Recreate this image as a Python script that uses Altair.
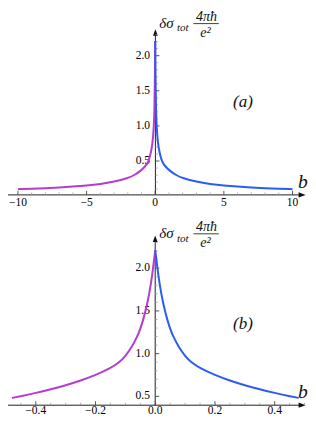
import altair as alt
import pandas as pd

# ---------------- data ----------------
# panel (a): b from -10 to 10
a_left_b = [-10, -9, -8, -7, -6, -5, -4, -3, -2, -1.5, -1, -0.75, -0.5, -0.3, -0.2, -0.1, -0.05, -0.02, 0]
a_left_v = [0.099, 0.105, 0.113, 0.123, 0.135, 0.150, 0.172, 0.204, 0.254, 0.300, 0.370, 0.420, 0.48, 0.63, 0.75, 0.97, 1.29, 1.70, 2.21]
a_right_b = [0, 0.02, 0.05, 0.1, 0.2, 0.3, 0.5, 0.75, 1, 1.5, 2, 3, 4, 5, 6, 7, 8, 9, 10]
a_right_v = [2.21, 1.70, 1.29, 0.97, 0.75, 0.63, 0.48, 0.420, 0.370, 0.300, 0.254, 0.204, 0.172, 0.150, 0.135, 0.123, 0.113, 0.105, 0.099]

# panel (b): b from -0.48 to 0.48
b_left_b = [-0.48, -0.45, -0.40, -0.35, -0.30, -0.25, -0.20, -0.15, -0.12, -0.10, -0.08, -0.06, -0.05, -0.04, -0.03, -0.02, -0.01, 0]
b_left_v = [0.482, 0.503, 0.540, 0.583, 0.630, 0.685, 0.750, 0.830, 0.900, 0.970, 1.070, 1.200, 1.290, 1.400, 1.535, 1.700, 1.920, 2.21]
b_right_b = [0, 0.01, 0.02, 0.03, 0.04, 0.05, 0.06, 0.08, 0.10, 0.12, 0.15, 0.20, 0.25, 0.30, 0.35, 0.40, 0.45, 0.48]
b_right_v = [2.21, 1.920, 1.700, 1.535, 1.400, 1.290, 1.200, 1.070, 0.970, 0.900, 0.830, 0.750, 0.685, 0.630, 0.583, 0.540, 0.503, 0.482]

# ticks and labels
a_x_major = [-10, -5, 0, 5, 10]
a_x_labels = ["\u221210", "\u22125", "0", "5", "10"]
a_x_minor = [-9, -8, -7, -6, -4, -3, -2, -1, 1, 2, 3, 4, 6, 7, 8, 9]
a_y_major = [0.5, 1.0, 1.5, 2.0]
a_y_labels = ["0.5", "1.0", "1.5", "2.0"]
a_y_minor = [0.1, 0.2, 0.3, 0.4, 0.6, 0.7, 0.8, 0.9, 1.1, 1.2, 1.3, 1.4, 1.6, 1.7, 1.8, 1.9, 2.1, 2.2, 2.3]

b_x_major = [-0.4, -0.2, 0.0, 0.2, 0.4]
b_x_labels = ["\u22120.4", "\u22120.2", "0.0", "0.2", "0.4"]
b_x_minor = [-0.5, -0.45, -0.35, -0.3, -0.25, -0.15, -0.1, -0.05, 0.05, 0.1, 0.15, 0.25, 0.3, 0.35, 0.45, 0.5]
b_y_major = [0.5, 1.0, 1.5, 2.0]
b_y_labels = ["0.5", "1.0", "1.5", "2.0"]
b_y_minor = [0.6, 0.7, 0.8, 0.9, 1.1, 1.2, 1.3, 1.4, 1.6, 1.7, 1.8, 1.9, 2.1, 2.2, 2.3]

panel_tags = ["(a)", "(b)"]

# ---------------- styling ----------------
MAGENTA = "#B43CD2"
BLUE = "#2B5CF5"
AXIS = "#222222"
MAJ = "#444444"
MIN = "#999999"
SERIF = "Liberation Serif, Times New Roman, DejaVu Serif, serif"
W, H = 300, 409

ARROW_R = "M -1 -0.75 L 1 0 L -1 0.75 Z"
ARROW_U = "M -0.75 1 L 0 -1 L 0.75 1 Z"
one = pd.DataFrame({"d": [0]})


def sc(dom, rng):
    return alt.Scale(domain=dom, range=rng, nice=False, zero=False)


def panel(lb, lv, rb, rv, xmaj, xlab, xmin_, ymaj, ylab, ymin_, tag, g):
    sx = sc(g["xdom"], g["xrng"])
    sy = sc(g["ydom"], g["yrng"])
    ax_y = g["ax_y"]   # pixel y of horizontal axis
    ax_x = g["ax_x"]   # pixel x of vertical axis
    dy = g["dy"]       # vertical offset of panel for annotations
    L = []
    # axis lines
    L.append(alt.Chart(one).mark_rule(color=AXIS, strokeWidth=1).encode(
        x=alt.value(0), x2=alt.value(292.5), y=alt.value(ax_y)))
    L.append(alt.Chart(one).mark_rule(color=AXIS, strokeWidth=1).encode(
        x=alt.value(ax_x), y=alt.value(ax_y), y2=alt.value(g["tip"] + 5)))
    L.append(alt.Chart(one).mark_point(shape=ARROW_R, filled=True, size=49, color="#111", opacity=1, strokeWidth=0).encode(
        x=alt.value(294.1), y=alt.value(ax_y)))
    L.append(alt.Chart(one).mark_point(shape=ARROW_U, filled=True, size=42, color="#111", opacity=1, strokeWidth=0).encode(
        x=alt.value(ax_x), y=alt.value(g["tip"] + 3.3)))
    # ticks
    L.append(alt.Chart(pd.DataFrame({"t": xmin_})).mark_rule(color=MIN, strokeWidth=0.8).encode(
        x=alt.X("t:Q", scale=sx, axis=None), y=alt.value(ax_y), y2=alt.value(ax_y - 2.4)))
    L.append(alt.Chart(pd.DataFrame({"t": xmaj})).mark_rule(color=MAJ, strokeWidth=0.9).encode(
        x=alt.X("t:Q", scale=sx, axis=None), y=alt.value(ax_y), y2=alt.value(ax_y - 4)))
    L.append(alt.Chart(pd.DataFrame({"t": ymin_})).mark_rule(color=MIN, strokeWidth=0.8).encode(
        y=alt.Y("t:Q", scale=sy, axis=None), x=alt.value(ax_x), x2=alt.value(ax_x + 2.4)))
    L.append(alt.Chart(pd.DataFrame({"t": ymaj})).mark_rule(color=MAJ, strokeWidth=0.9).encode(
        y=alt.Y("t:Q", scale=sy, axis=None), x=alt.value(ax_x), x2=alt.value(ax_x + 4)))
    # tick labels
    L.append(alt.Chart(pd.DataFrame({"t": xmaj, "s": xlab})).mark_text(
        font=SERIF, fontSize=11.5, color="#000", align="center", baseline="middle").encode(
        x=alt.X("t:Q", scale=sx, axis=None), y=alt.value(g["xlab_y"]), text="s:N"))
    L.append(alt.Chart(pd.DataFrame({"t": ymaj, "s": ylab})).mark_text(
        font=SERIF, fontSize=11.5, color="#000", align="right", baseline="middle").encode(
        y=alt.Y("t:Q", scale=sy, axis=None), x=alt.value(g["ax_x"] - 5.3), text="s:N"))
    # curves
    L.append(alt.Chart(pd.DataFrame({"b": lb, "v": lv})).mark_line(
        color=MAGENTA, strokeWidth=2, interpolate="basis").encode(
        x=alt.X("b:Q", scale=sx, axis=None), y=alt.Y("v:Q", scale=sy, axis=None)))
    L.append(alt.Chart(pd.DataFrame({"b": rb, "v": rv})).mark_line(
        color=BLUE, strokeWidth=2, interpolate="basis").encode(
        x=alt.X("b:Q", scale=sx, axis=None), y=alt.Y("v:Q", scale=sy, axis=None)))

    # y title: delta sigma_tot * 4 pi hbar / e^2
    def txt(s, x, y, size, align="left", style="italic"):
        return alt.Chart(one).mark_text(text=s, font=SERIF, fontSize=size, fontStyle=style,
                                        color="#111", align=align, baseline="alphabetic").encode(
            x=alt.value(x), y=alt.value(y))
    L.append(txt("\u03b4\u03c3", 151.3, 19.5 + dy, 15))
    L.append(txt("tot", 169.0, 23.3 + dy, 11))
    L.append(txt("4\u03c0\u0127", 198.4, 12.8 + dy, 14, align="center"))
    L.append(alt.Chart(one).mark_rule(color="#111", strokeWidth=0.8).encode(
        x=alt.value(185.4), x2=alt.value(210.8), y=alt.value(15.6 + dy)))
    L.append(txt("e\u00b2", 192.2, 28.6 + dy, 14))
    L.append(txt(tag, 235, g["tag_y"], 17, align="center"))
    L.append(txt("b", 290, g["b_y"], 19.5))
    return L


ga = dict(xdom=[-10, 10], xrng=[9.95, 284.5], ydom=[0, 2], yrng=[188.1, 47.7],
          ax_y=186.9, ax_x=147.4, tip=21.1, dy=0, xlab_y=194.5, tag_y=98.5, b_y=180.2)
gb = dict(xdom=[-0.4, 0.4], xrng=[27.8, 266.7], ydom=[0.5, 2], yrng=[388.4, 260.2],
          ax_y=397.2, ax_x=147.2, tip=227.5, dy=210.2, xlab_y=402.8, tag_y=321.2, b_y=390.4)

layers = panel(a_left_b, a_left_v, a_right_b, a_right_v, a_x_major, a_x_labels, a_x_minor,
               a_y_major, a_y_labels, a_y_minor, panel_tags[0], ga)
layers += panel(b_left_b, b_left_v, b_right_b, b_right_v, b_x_major, b_x_labels, b_x_minor,
                b_y_major, b_y_labels, b_y_minor, panel_tags[1], gb)

chart = alt.layer(*layers).resolve_scale(x="independent", y="independent").properties(
    width=W, height=H, padding=0, autosize=alt.AutoSizeParams(type="none"),
    background="white"
).configure_view(stroke="transparent")

chart.save("out.html", embed_options={"renderer": "svg", "actions": False})
